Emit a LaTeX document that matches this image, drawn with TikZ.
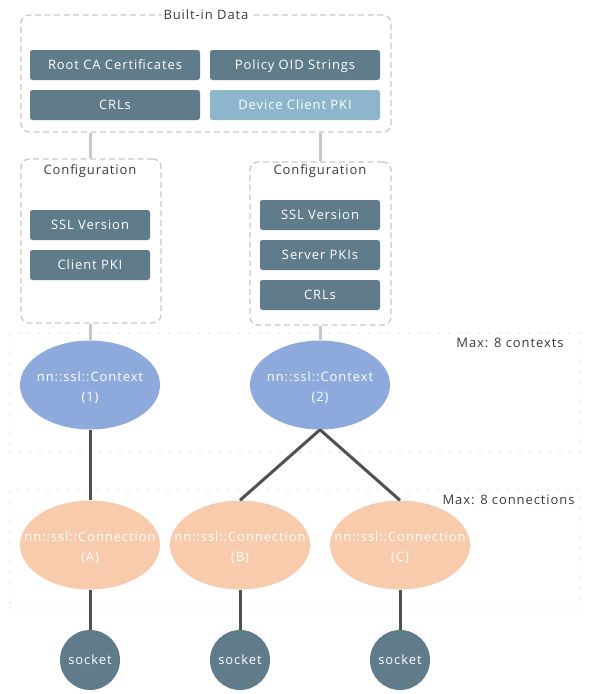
\documentclass[tikz,border=0pt]{standalone}
\usepackage{fontspec}
\setmainfont{Open Sans}[LetterSpace=7]
\usetikzlibrary{arrows.meta}
\usetikzlibrary{shapes.geometric}

\definecolor{slate}{HTML}{607B89}
\definecolor{paleslate}{HTML}{8DB5CB}
\definecolor{ctxblue}{HTML}{8EAADC}
\definecolor{connpeach}{HTML}{F8CBAD}
\definecolor{frame}{HTML}{C8C8C8}
\definecolor{wire}{HTML}{505050}
\definecolor{label}{HTML}{3A3A3A}

\tikzset{
	groupbox/.style={draw=frame,line width=1.3pt,dash pattern=on 6pt off 3.5pt,rounded corners=8pt,inner sep=0pt},
	limitbox/.style={draw=frame!90!black,line width=1.4pt,line cap=round,dash pattern=on 0pt off 10pt,inner sep=0pt},
	itembox/.style={fill=slate,rounded corners=2.5pt,text=white,inner sep=0pt,minimum height=30pt,
		text height=9.3pt,text depth=0pt},
	ctxnode/.style={ellipse,fill=ctxblue,minimum width=140pt,minimum height=89pt,inner sep=0pt,
		label={[text=white,align=center,yshift=-3pt]center:#1}},
	connnode/.style={ellipse,fill=connpeach,minimum width=140pt,minimum height=89pt,inner sep=0pt,
		label={[text=white,align=center,yshift=-3pt]center:#1}},
	socketnode/.style={circle,fill=slate,text=white,minimum size=60pt,inner sep=0pt,
		text height=9.3pt,text depth=0pt},
	grouptitle/.style={text=label},
}

\begin{document}
\begin{tikzpicture}[x=1pt,y=-1pt,font=\fontsize{13}{20}\selectfont]
	\useasboundingbox (0,0) rectangle (603,694);

	\begin{scope}
		% groups
		\node[groupbox,minimum width=370pt,minimum height=117pt] (builtin) at (206,73.5) {};
		\node[groupbox,minimum width=140pt,minimum height=164pt] (cfg1) at (91,241) {};
		\node[groupbox,minimum width=141pt,minimum height=163pt] (cfg2) at (320.5,243.5) {};
		\node[limitbox,minimum width=570pt,minimum height=119pt] (ctxlimit) at (295,392.5) {};
		\node[limitbox,minimum width=570pt,minimum height=118pt] (connlimit) at (295,549) {};

		% titles
		\node[grouptitle,fill=white,inner sep=1.5pt] (builtintitle) at (builtin.north) {Built-in Data};
		\node[grouptitle] (cfg1title) at (90,171) {Configuration};
		\node[grouptitle] (cfg2title) at (320,171) {Configuration};
		\node[grouptitle,anchor=east] (ctxmax) at (567,343) {Max: 8 contexts};
		\node[grouptitle,anchor=east] (connmax) at (578,500) {Max: 8 connections};
	\end{scope}

	\begin{scope}[every node/.style={itembox,minimum width=170pt}]
		% built-in data
		\node (rootca) at (115,65) {Root CA Certificates};
		\node (policyoid) at (295,65) {Policy OID Strings};
		\node (crls) at (115,105) {CRLs};
		\node[fill=paleslate] (devpki) at (295,105) {Device Client PKI};
	\end{scope}

	\begin{scope}[every node/.style={itembox,minimum width=120pt}]
		% configuration 1
		\node (ssl1) at (90,225) {SSL Version};
		\node (clientpki) at (90,265) {Client PKI};
		% configuration 2
		\node (ssl2) at (320,215) {SSL Version};
		\node (serverpki) at (320,255) {Server PKIs};
		\node (crls2) at (320,295) {CRLs};
	\end{scope}

	% contexts, connections, sockets
	\node[ctxnode={nn::ssl::Context\\(1)}] (ctx1) at (90,385) {};
	\node[ctxnode={nn::ssl::Context\\(2)}] (ctx2) at (320,385) {};
	\node[connnode={nn::ssl::Connection\\(A)}] (conna) at (90,545) {};
	\node[connnode={nn::ssl::Connection\\(B)}] (connb) at (240,545) {};
	\node[connnode={nn::ssl::Connection\\(C)}] (connc) at (400,545) {};
	\node[socketnode] (socka) at (90,660) {socket};
	\node[socketnode] (sockb) at (240,660) {socket};
	\node[socketnode] (sockc) at (400,660) {socket};

	\begin{scope}[every edge/.style={draw=frame,line width=3pt}]
		\path (builtin.south -| cfg1title) edge (cfg1.north -| cfg1title);
		\path (builtin.south -| cfg2title) edge (cfg2.north -| cfg2title);
		\path (cfg1.south -| ctx1) edge (ctx1.north);
		\path (cfg2.south -| ctx2) edge (ctx2.north);
	\end{scope}

	\begin{scope}[every edge/.style={draw=wire,line width=3pt}]
		\path (ctx1.south) edge (conna.north);
		\path (ctx2.south) edge (connb.north);
		\path (ctx2.south) edge (connc.north);

		\path (conna.south) edge (socka.north);
		\path (connb.south) edge (sockb.north);
		\path (connc.south) edge (sockc.north);
	\end{scope}
\end{tikzpicture}
\end{document}
